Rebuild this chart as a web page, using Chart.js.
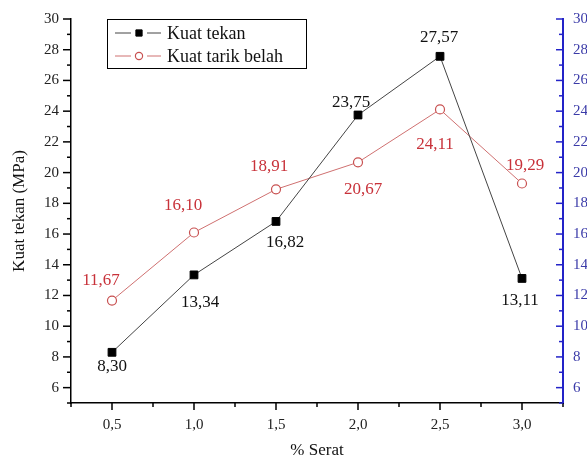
<!DOCTYPE html>
<html>
<head>
<meta charset="utf-8">
<script src="https://cdn.jsdelivr.net/npm/chart.js@4/dist/chart.umd.min.js"></script>
<style>
  html, body { margin: 0; padding: 0; background: #fff; overflow: hidden; }
  #wrap { width: 610px; height: 461px; }
</style>
</head>
<body>
<div id="wrap"><canvas id="chart" width="610" height="461"></canvas></div>
<script>
// ---- data ----
const serat = ["0,5", "1,0", "1,5", "2,0", "2,5", "3,0"];
const kuatTekan = [8.30, 13.34, 16.82, 23.75, 27.57, 13.11];
const kuatTarik = [11.67, 16.10, 18.91, 20.67, 24.11, 19.29];
const yTicks = [6, 8, 10, 12, 14, 16, 18, 20, 22, 24, 26, 28, 30];

// value label offsets (dx, dy) from each point
const tekanLabelPos = [[0, 14], [6, 28], [9, 21], [-7, -12], [-1, -19], [-2, 22]];
const tarikLabelPos = [[-11, -20], [-11, -27], [-7, -23], [5, 27], [-5, 35], [3, -18]];

const SERIF = "'Liberation Serif', 'Times New Roman', serif";
const BLUE = "#2323c8";
const RED_LINE = "#cf7070";
const RED_TEXT = "#c8323a";

const fmt = v => v.toFixed(2).replace(".", ",");

// ---- tick marks, value labels, legend, axis titles ----
const decorPlugin = {
    id: "decor",
    afterDraw(chart) {
        const ctx = chart.ctx;
        const x = chart.scales.x;
        const yl = chart.scales.y;
        const yr = chart.scales.y2;
        const area = chart.chartArea;
        ctx.save();

        // x ticks: major at categories, minor at boundaries
        ctx.strokeStyle = "#000";
        ctx.lineWidth = 1.5;
        for (let i = 0; i < serat.length; i++) {
            const px = x.getPixelForValue(i);
            ctx.beginPath(); ctx.moveTo(px, area.bottom); ctx.lineTo(px, area.bottom + 7); ctx.stroke();
        }
        for (let i = -0.5; i <= serat.length - 0.5; i += 1) {
            const px = x.getPixelForValue(i);
            ctx.beginPath(); ctx.moveTo(px, area.bottom); ctx.lineTo(px, area.bottom + 4); ctx.stroke();
        }

        // y ticks
        for (let v = 5; v <= 30; v++) {
            const major = v % 2 === 0;
            const py = yl.getPixelForValue(v);
            ctx.strokeStyle = "#000";
            ctx.beginPath(); ctx.moveTo(area.left, py); ctx.lineTo(area.left - (major ? 8 : 4), py); ctx.stroke();
            ctx.strokeStyle = BLUE;
            const pr = yr.getPixelForValue(v);
            ctx.beginPath(); ctx.moveTo(area.right, pr); ctx.lineTo(area.right - (major ? 7 : 4), pr); ctx.stroke();
        }

        // value labels
        ctx.font = "17px " + SERIF;
        ctx.textAlign = "center";
        ctx.textBaseline = "middle";
        const drawLabels = (dsIndex, values, pos, color) => {
            const meta = chart.getDatasetMeta(dsIndex);
            ctx.fillStyle = color;
            meta.data.forEach((pt, i) => {
                ctx.fillText(fmt(values[i]), pt.x + pos[i][0], pt.y + pos[i][1]);
            });
        };
        drawLabels(0, kuatTekan, tekanLabelPos, "#111");
        drawLabels(1, kuatTarik, tarikLabelPos, RED_TEXT);

        // legend box
        const lx = area.left + 36, ly = area.top, lw = 199, lh = 49;
        ctx.fillStyle = "#fff";
        ctx.fillRect(lx, ly, lw, lh);
        ctx.strokeStyle = "#000";
        ctx.lineWidth = 1;
        ctx.strokeRect(lx + 0.5, ly + 0.5, lw, lh);
        const items = [
            { label: "Kuat tekan", ds: chart.data.datasets[0], y: ly + 14 },
            { label: "Kuat tarik belah", ds: chart.data.datasets[1], y: ly + 37 }
        ];
        items.forEach(it => {
            ctx.strokeStyle = it.ds.borderColor;
            ctx.lineWidth = 1;
            ctx.beginPath();
            ctx.moveTo(lx + 8, it.y); ctx.lineTo(lx + 24, it.y);
            ctx.moveTo(lx + 40, it.y); ctx.lineTo(lx + 54, it.y);
            ctx.stroke();
            ctx.fillStyle = it.ds.pointBackgroundColor;
            ctx.strokeStyle = it.ds.pointBorderColor;
            ctx.lineWidth = it.ds.pointBorderWidth;
            ctx.beginPath();
            if (it.ds.pointStyle === "rect") {
                const s = it.ds.pointRadius * 0.8 * Math.SQRT1_2;
                ctx.rect(lx + 32 - s, it.y - s, 2 * s, 2 * s);
            } else {
                ctx.arc(lx + 32, it.y, it.ds.pointRadius * 0.8, 0, Math.PI * 2);
            }
            ctx.fill(); ctx.stroke();
            ctx.fillStyle = "#111";
            ctx.font = "18px " + SERIF;
            ctx.textAlign = "left";
            ctx.fillText(it.label, lx + 60, it.y + 1);
        });

        // axis titles
        ctx.fillStyle = "#111";
        ctx.font = "17px " + SERIF;
        ctx.textAlign = "center";
        ctx.fillText("% Serat", (area.left + area.right) / 2, 451);
        ctx.translate(20, (area.top + area.bottom) / 2);
        ctx.rotate(-Math.PI / 2);
        ctx.fillText("Kuat tekan (MPa)", 0, 0);
        ctx.restore();
    }
};

new Chart(document.getElementById("chart"), {
    type: "line",
    data: {
        labels: serat,
        datasets: [
            {
                label: "Kuat tekan",
                data: kuatTekan,
                borderColor: "#444",
                borderWidth: 1,
                pointStyle: "rect",
                pointRadius: 5.5,
                pointBackgroundColor: "#000",
                pointBorderColor: "#000",
                pointBorderWidth: 1,
                tension: 0,
                yAxisID: "y"
            },
            {
                label: "Kuat tarik belah",
                data: kuatTarik,
                borderColor: RED_LINE,
                borderWidth: 1,
                pointStyle: "circle",
                pointRadius: 4.5,
                pointBackgroundColor: "#fff",
                pointBorderColor: "#c85050",
                pointBorderWidth: 1.2,
                tension: 0,
                yAxisID: "y"
            }
        ]
    },
    options: {
        responsive: false,
        animation: false,
        layout: { padding: { top: 19, left: 0, right: 0, bottom: 0 } },
        plugins: {
            legend: { display: false },
            tooltip: { enabled: false }
        },
        scales: {
            x: {
                type: "category",
                offset: true,
                grid: { display: false },
                border: { color: "#000", width: 1.5 },
                ticks: { color: "#222", font: { family: SERIF, size: 15 }, padding: 5, maxRotation: 0 },
                afterFit(s) { s.height = 58; }
            },
            y: {
                position: "left",
                min: 5,
                max: 30,
                afterBuildTicks(s) { s.ticks = yTicks.map(v => ({ value: v })); },
                grid: { display: false },
                border: { color: "#000", width: 1.5 },
                ticks: { color: "#222", font: { family: SERIF, size: 15 }, padding: 4, autoSkip: false },
                afterFit(s) { s.width = 71; }
            },
            y2: {
                position: "right",
                min: 5,
                max: 30,
                afterBuildTicks(s) { s.ticks = yTicks.map(v => ({ value: v })); },
                grid: { display: false },
                border: { color: BLUE, width: 2 },
                ticks: { color: "#3a3aa8", font: { family: SERIF, size: 15 }, padding: 2, autoSkip: false },
                afterFit(s) { s.width = 47; }
            }
        }
    },
    plugins: [decorPlugin]
});
</script>
</body>
</html>
